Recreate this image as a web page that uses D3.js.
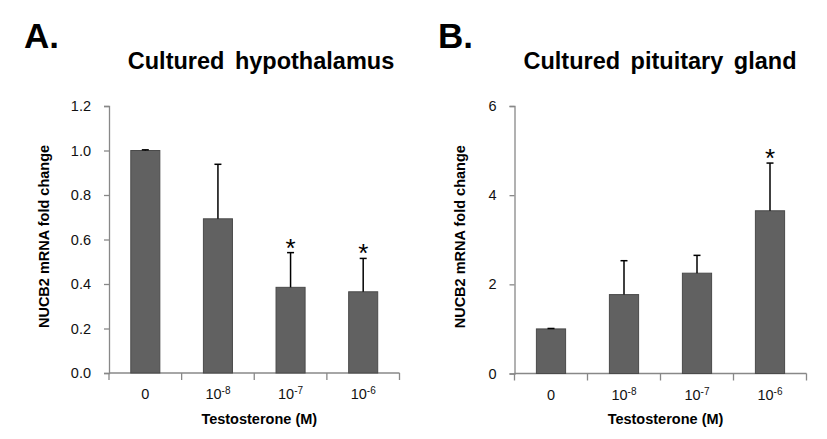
<!DOCTYPE html>
<html><head><meta charset="utf-8">
<script src="https://cdn.jsdelivr.net/npm/d3@7"></script>
<style>body{margin:0;background:#fff;} text{font-family:"Liberation Sans",Arial,sans-serif;}</style>
</head><body>
<svg id="c" width="827" height="439"></svg>
<script>
const categories = ["0", "1e-8", "1e-7", "1e-6"];
const catBase = ["0", "10", "10", "10"];
const catExp = ["", "-8", "-7", "-6"];
const hypoValues = [1.0, 0.693, 0.385, 0.365];
const hypoErrors = [0.003, 0.245, 0.156, 0.150];
const hypoStars = [false, false, true, true];
const hypoTicks = [0, 0.2, 0.4, 0.6, 0.8, 1.0, 1.2];
const pitValues = [1.0, 1.77, 2.25, 3.65];
const pitErrors = [0.01, 0.76, 0.40, 1.07];
const pitStars = [false, false, false, true];
const pitTicks = [0, 2, 4, 6];

const svg = d3.select("#c");

function panel(o) {
  const g = svg.append("g");
  const x = d3.scaleBand().domain(categories).range([o.x0, o.x1]).paddingInner(0.6).paddingOuter(0.3);
  const xb = d3.scaleBand().domain(categories).range([o.x0, o.x1]);
  const y = d3.scaleLinear().domain([0, o.ymax]).range([o.y0, o.y1]);

  // letter & title
  g.append("text").attr("x", o.lx).attr("y", 48).attr("font-size", 35).attr("font-weight", "bold").text(o.letter);
  g.append("text").attr("x", o.tx).attr("y", 68.5).attr("font-size", 23.5).attr("font-weight", "bold")
    .attr("text-anchor", "middle").attr("word-spacing", 4).text(o.title);

  // y axis
  const ya = d3.axisLeft(y).tickValues(o.ticks).tickSize(5).tickPadding(13).tickFormat(o.fmt);
  const yg = g.append("g").attr("transform", `translate(${o.x0},0)`).call(ya);
  yg.select(".domain").attr("stroke", "#888").attr("stroke-width", 1.3);
  yg.selectAll(".tick line").attr("stroke", "#888").attr("stroke-width", 1.3);
  yg.selectAll(".tick text").attr("font-size", 14.5).attr("fill", "#111").attr("font-family", "Liberation Sans, Arial, sans-serif");

  // x axis
  const xg = g.append("g");
  xg.append("line").attr("x1", o.x0).attr("x2", o.x1).attr("y1", y(0)).attr("y2", y(0)).attr("stroke", "#888").attr("stroke-width", 1.3);
  const bounds = [o.x0].concat(categories.map(c => xb(c) + xb.bandwidth()));
  xg.selectAll("line.xt").data(bounds).join("line").attr("class", "xt")
    .attr("x1", d => d).attr("x2", d => d).attr("y1", y(0)).attr("y2", y(0) + 7)
    .attr("stroke", "#888").attr("stroke-width", 1.3);
  const lab = xg.selectAll("text.xl").data(categories).join("text").attr("class", "xl")
    .attr("x", d => xb(d) + xb.bandwidth() / 2).attr("y", y(0) + 26).attr("text-anchor", "middle")
    .attr("font-size", 14.5).attr("fill", "#111");
  lab.each(function(d, i) {
    const t = d3.select(this);
    t.append("tspan").text(catBase[i]);
    if (catExp[i]) t.append("tspan").attr("font-size", 10).attr("dy", -5).text(catExp[i]);
  });

  // bars
  g.selectAll("rect.bar").data(o.values).join("rect").attr("class", "bar")
    .attr("x", (d, i) => x(categories[i])).attr("width", x.bandwidth())
    .attr("y", d => y(d)).attr("height", d => y(0) - y(d))
    .attr("fill", "#616161").attr("stroke", "#4a4a4a").attr("stroke-width", 1);

  // error bars
  o.values.forEach((v, i) => {
    const cx = x(categories[i]) + x.bandwidth() / 2;
    const top = y(v + o.errors[i]);
    g.append("line").attr("x1", cx).attr("x2", cx).attr("y1", y(v)).attr("y2", top).attr("stroke", "#000").attr("stroke-width", 1.5);
    g.append("line").attr("x1", cx - 3.5).attr("x2", cx + 3.5).attr("y1", top).attr("y2", top).attr("stroke", "#000").attr("stroke-width", 1.5);
    if (o.stars[i]) {
      g.append("text").attr("x", cx).attr("y", top + 4).attr("text-anchor", "middle").attr("font-size", 26).text("*");
    }
  });

  // axis labels
  g.append("text").attr("x", (o.x0 + o.x1) / 2 + 5).attr("y", 424).attr("text-anchor", "middle")
    .attr("font-size", 14.5).attr("font-weight", "bold").text("Testosterone (M)");
  g.append("text").attr("transform", `translate(${o.yl},${(o.y0 + o.y1) / 2 - 3}) rotate(-90)`)
    .attr("text-anchor", "middle").attr("font-size", 14.5).attr("font-weight", "bold").text("NUCB2 mRNA fold change");
}

panel({letter: "A.", lx: 24, title: "Cultured hypothalamus", tx: 261, x0: 109, x1: 399.5, y0: 373, y1: 106,
  ymax: 1.2, ticks: hypoTicks, fmt: d3.format(".1f"), values: hypoValues, errors: hypoErrors, stars: hypoStars, yl: 49});
panel({letter: "B.", lx: 438, title: "Cultured pituitary gland", tx: 660, x0: 514.5, x1: 806.5, y0: 373.5, y1: 106,
  ymax: 6, ticks: pitTicks, fmt: d3.format("d"), values: pitValues, errors: pitErrors, stars: pitStars, yl: 465});
</script>
</body></html>
